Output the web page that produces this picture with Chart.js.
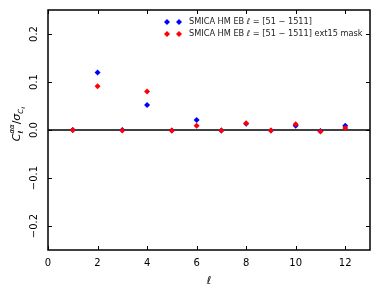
<!DOCTYPE html>
<html>
<head>
<meta charset="utf-8">
<script src="https://cdn.jsdelivr.net/npm/chart.js@4"></script>
<style>
  html, body { margin: 0; padding: 0; background: #fff; }
  #wrap { width: 380px; height: 297px; }
</style>
</head>
<body>
<div id="wrap"><canvas id="c" width="380" height="297"></canvas></div>
<script>
const ells = [1, 2, 3, 4, 5, 6, 7, 8, 9, 10, 11, 12];
const blueVals = [0.0, 0.120, 0.0, 0.052, -0.001, 0.021, -0.001, 0.013, -0.001, 0.009, -0.002, 0.009];
const redVals = [0.0, 0.091, -0.001, 0.080, -0.001, 0.009, -0.001, 0.014, -0.001, 0.012, -0.003, 0.004];
const xTicks = [0, 2, 4, 6, 8, 10, 12];
const yTicks = [-0.2, -0.1, 0.0, 0.1, 0.2];
const yTickLabels = ["\u22120.2", "\u22120.1", "0.0", "0.1", "0.2"];
const legendLabels = ["SMICA HM EB \u2113 = [51 \u2212 1511]", "SMICA HM EB \u2113 = [51 \u2212 1511] ext15 mask"];
const colors = ["#0000ff", "#ff0000"];

const font = "DejaVu Sans";

const axesPlugin = {
  id: "axesPlugin",
  beforeDatasetsDraw(chart) {
    const { ctx, chartArea: a, scales: { y } } = chart;
    ctx.save();
    ctx.strokeStyle = "#000";
    ctx.lineWidth = 1.5;
    const y0 = y.getPixelForValue(0);
    ctx.beginPath();
    ctx.moveTo(a.left, y0);
    ctx.lineTo(a.right, y0);
    ctx.stroke();
    ctx.restore();
  },
  afterDraw(chart) {
    const { ctx, chartArea: a, scales: { x, y } } = chart;
    ctx.save();
    ctx.strokeStyle = "#000";
    ctx.lineWidth = 1;
    // ticks inward on all sides
    ctx.beginPath();
    xTicks.forEach(t => {
      const px = Math.round(x.getPixelForValue(t)) + 0.5;
      ctx.moveTo(px, a.bottom); ctx.lineTo(px, a.bottom - 4);
      ctx.moveTo(px, a.top); ctx.lineTo(px, a.top + 4);
    });
    yTicks.forEach(t => {
      const py = Math.round(y.getPixelForValue(t)) + 0.5;
      ctx.moveTo(a.left, py); ctx.lineTo(a.left + 4, py);
      ctx.moveTo(a.right, py); ctx.lineTo(a.right - 4, py);
    });
    ctx.stroke();
    // frame
    ctx.lineWidth = 1.5;
    ctx.strokeRect(a.left, a.top, a.right - a.left, a.bottom - a.top);

    // tick labels
    ctx.fillStyle = "#000";
    ctx.font = "10px '" + font + "'";
    ctx.textAlign = "center";
    ctx.textBaseline = "top";
    xTicks.forEach(t => ctx.fillText(String(t), x.getPixelForValue(t), a.bottom + 8));
    yTicks.forEach((t, i) => {
      ctx.save();
      ctx.translate(a.left - 9, y.getPixelForValue(t));
      ctx.rotate(-Math.PI / 2);
      ctx.textBaseline = "bottom";
      ctx.fillText(yTickLabels[i], 0, 0);
      ctx.restore();
    });

    // x title
    ctx.font = "italic 11px '" + font + "'";
    ctx.textBaseline = "alphabetic";
    ctx.fillText("\u2113", (a.left + a.right) / 2, 284);

    // y title: C_l^{aa} / sigma_{C_l}
    ctx.save();
    ctx.translate(20, 124);
    ctx.rotate(-Math.PI / 2);
    const parts = [
      { t: "C", f: "italic 11px", dy: 0 },
      { t: "\u2113", f: "italic 7px", dy: 3, back: true },
      { t: "\u03b1\u03b1", f: "italic 7px", dy: -6 },
      { t: "/", f: "11px", dy: 0 },
      { t: "\u03c3", f: "italic 11px", dy: 0 },
      { t: "C", f: "italic 7px", dy: 3 },
      { t: "\u2113", f: "italic 5px", dy: 5 }
    ];
    const widths = parts.map(p => { ctx.font = p.f + " '" + font + "'"; return ctx.measureText(p.t).width; });
    const total = widths.reduce((s, v, i) => s + (parts[i].back ? 0 : v), 0);
    let cx = -total / 2;
    ctx.textAlign = "left";
    parts.forEach((p, i) => {
      ctx.font = p.f + " '" + font + "'";
      ctx.fillText(p.t, cx, p.dy);
      if (!p.back) cx += widths[i];
    });
    ctx.restore();

    // legend
    const rows = [22, 34];
    ctx.font = "8.2px '" + font + "'";
    ctx.textAlign = "left";
    ctx.textBaseline = "middle";
    rows.forEach((ry, i) => {
      [167, 179].forEach(mx => {
        ctx.fillStyle = colors[i];
        ctx.beginPath();
        ctx.moveTo(mx, ry - 3); ctx.lineTo(mx + 3, ry); ctx.lineTo(mx, ry + 3); ctx.lineTo(mx - 3, ry);
        ctx.closePath();
        ctx.fill();
      });
      ctx.fillStyle = "#222";
      ctx.fillText(legendLabels[i], 189, ry);
    });
    ctx.restore();
  }
};

new Chart(document.getElementById("c"), {
  type: "scatter",
  data: {
    datasets: [
      {
        label: legendLabels[0],
        data: ells.map((l, i) => ({ x: l, y: blueVals[i] })),
        backgroundColor: colors[0], borderColor: colors[0],
        pointStyle: "rectRot", pointRadius: 3, borderWidth: 0, order: 2
      },
      {
        label: legendLabels[1],
        data: ells.map((l, i) => ({ x: l, y: redVals[i] })),
        backgroundColor: colors[1], borderColor: colors[1],
        pointStyle: "rectRot", pointRadius: 3, borderWidth: 0, order: 1
      }
    ]
  },
  options: {
    responsive: false,
    animation: false,
    layout: { padding: { top: 10, right: 10, left: 0, bottom: 0 } },
    plugins: { legend: { display: false }, tooltip: { enabled: false } },
    scales: {
      x: {
        type: "linear", min: 0, max: 13,
        grid: { display: false }, border: { display: false },
        ticks: { display: false },
        afterFit(s) { s.height = 47; }
      },
      y: {
        type: "linear", min: -0.25, max: 0.25,
        grid: { display: false }, border: { display: false },
        ticks: { display: false },
        afterFit(s) { s.width = 48; }
      }
    }
  },
  plugins: [axesPlugin]
});
</script>
</body>
</html>
